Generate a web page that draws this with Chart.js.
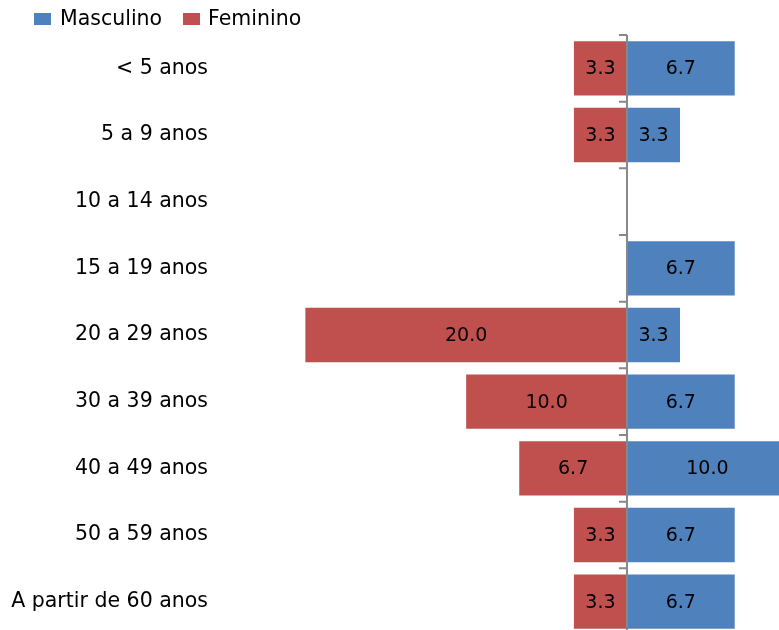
<!DOCTYPE html>
<html>
<head>
<meta charset="utf-8">
<script src="https://cdn.jsdelivr.net/npm/chart.js@4/dist/chart.umd.min.js"></script>
<style>
  html, body { margin: 0; padding: 0; background: #fff; overflow: hidden; }
  #wrap { width: 779px; height: 630px; overflow: hidden; position: relative; }
  #box { width: 800px; height: 700px; position: absolute; left: 0; top: 0; }
</style>
</head>
<body>
<div id="wrap"><div id="box"><canvas id="pyramid"></canvas></div></div>
<script>
// DATA
const ageGroups = ['< 5 anos', '5 a 9 anos', '10 a 14 anos', '15 a 19 anos', '20 a 29 anos',
                   '30 a 39 anos', '40 a 49 anos', '50 a 59 anos', 'A partir de 60 anos'];
const masculino = [6.7, 3.3, 0, 6.7, 3.3, 6.7, 10.0, 6.7, 6.7];
const feminino  = [3.3, 3.3, 0, 0, 20.0, 10.0, 6.7, 3.3, 3.3];

const blue = '#4F81BD';
const red = '#C0504D';
const font = '"DejaVu Sans", sans-serif';

// labels inside the bars
const barLabels = {
    id: 'barLabels',
    afterDatasetsDraw(chart) {
        const c = chart.ctx;
        c.save();
        c.font = '19px ' + font;
        c.fillStyle = '#000';
        c.textAlign = 'center';
        c.textBaseline = 'middle';
        chart.data.datasets.forEach((ds, i) => {
            chart.getDatasetMeta(i).data.forEach((bar, j) => {
                const v = Math.abs(ds.data[j]);
                if (!v) return;
                const p = bar.getCenterPoint();
                c.fillText(v.toFixed(1), p.x, p.y + 1);
            });
        });
        c.restore();
    }
};

// vertical axis at zero with small ticks
const zeroAxis = {
    id: 'zeroAxis',
    afterDatasetsDraw(chart) {
        const c = chart.ctx;
        const x0 = chart.scales.x.getPixelForValue(0);
        const y = chart.scales.y;
        c.save();
        c.strokeStyle = '#888888';
        c.lineWidth = 2;
        c.beginPath();
        c.moveTo(x0, chart.chartArea.top);
        c.lineTo(x0, chart.chartArea.bottom);
        for (let i = 0; i <= ageGroups.length; i++) {
            const ty = y.getPixelForValue(i - 0.5);
            c.moveTo(x0 - 8, ty);
            c.lineTo(x0, ty);
        }
        c.stroke();
        c.restore();
    }
};

// legend at top left
const topLegend = {
    id: 'topLegend',
    afterDraw(chart) {
        const c = chart.ctx;
        c.save();
        c.font = '20.5px ' + font;
        c.textBaseline = 'middle';
        c.fillStyle = blue;
        c.fillRect(34, 13, 17, 12);
        c.fillStyle = red;
        c.fillRect(183, 13, 17, 12);
        c.fillStyle = '#000';
        c.fillText('Masculino', 60, 20);
        c.fillText('Feminino', 208, 20);
        c.restore();
    }
};

const ctx = document.getElementById('pyramid');

new Chart(ctx, {
    type: 'bar',
    data: {
        labels: ageGroups,
        datasets: [
            {
                label: 'Masculino',
                data: masculino,
                backgroundColor: blue,
                categoryPercentage: 1,
                barPercentage: 0.814
            },
            {
                label: 'Feminino',
                data: feminino.map(v => -v),
                backgroundColor: red,
                categoryPercentage: 1,
                barPercentage: 0.814
            }
        ]
    },
    options: {
        indexAxis: 'y',
        responsive: true,
        maintainAspectRatio: false,
        animation: false,
        layout: { padding: { top: 35, bottom: 65, left: 0, right: 0 } },
        plugins: {
            legend: { display: false },
            tooltip: { enabled: false }
        },
        scales: {
            x: {
                stacked: true,
                display: false,
                min: -25.62,
                max: 10.76
            },
            y: {
                stacked: true,
                grid: { display: false, drawTicks: false },
                border: { display: false },
                ticks: {
                    color: '#000',
                    padding: 7,
                    font: { family: font, size: 20.5 }
                },
                afterFit(scale) { scale.width = 215; }
            }
        }
    },
    plugins: [barLabels, zeroAxis, topLegend]
});
</script>
</body>
</html>
